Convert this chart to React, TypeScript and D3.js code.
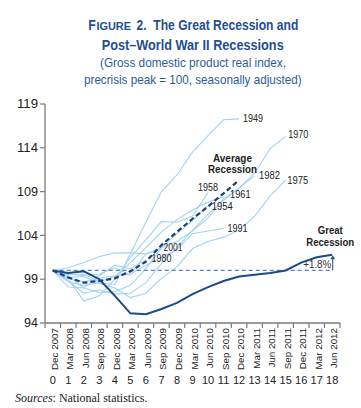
import React from "react";
import * as d3 from "d3";

const quarters = ["Dec 2007","Mar 2008","Jun 2008","Sep 2008","Dec 2008","Mar 2009","Jun 2009","Sep 2009","Dec 2009","Mar 2010","Jun 2010","Sep 2010","Dec 2010","Mar 2011","Jun 2011","Sep 2011","Dec 2011","Mar 2012","Jun 2012"];
const yTicks = [94, 99, 104, 109, 114, 119];

const greatRecession = [100, 99.7, 99.9, 99.0, 97.1, 95.1, 95.0, 95.6, 96.3, 97.3, 98.1, 98.8, 99.3, 99.5, 99.7, 100.0, 100.9, 101.5, 101.8];
const averageRecession = [100, 99.2, 98.6, 98.8, 99.1, 99.9, 101.0, 102.9, 104.4, 105.9, 107.3, 108.8, 110.3];

const r1949 = [100, 98.7, 98.3, 98.6, 98.4, 101.9, 105.5, 109.0, 110.9, 113.5, 115.4, 117.2, 117.3];
const r1970 = [100, 99.6, 99.4, 99.6, 100.3, 99.5, 101.9, 102.6, 103.3, 104.5, 106.0, 108.2, 109.4, 111.1, 113.9, 115.3];
const r1975 = [100, 99.2, 99.3, 98.5, 98.0, 96.9, 97.4, 99.1, 100.4, 102.5, 103.3, 103.8, 104.6, 106.2, 108.5, 110.3];
const r1982 = [100, 98.8, 97.4, 97.8, 97.3, 97.4, 98.6, 100.8, 102.6, 104.6, 106.4, 108.0, 109.4, 110.8];
const r1958 = [100, 99.0, 96.5, 97.1, 99.0, 101.5, 103.5, 105.6, 105.5, 106.2, 108.9];
const r1961 = [100, 99.5, 99.6, 98.7, 99.3, 100.9, 102.6, 104.4, 105.8, 106.9, 107.8, 108.4];
const r1954 = [100, 99.4, 98.0, 97.5, 97.6, 98.3, 100.2, 102.6, 104.2, 105.7, 107.4];
const r1991 = [100, 99.1, 98.7, 99.1, 99.4, 99.6, 100.6, 101.5, 102.4, 104.2, 104.5, 104.8];
const r2001 = [100, 100.3, 100.9, 101.6, 102.0, 102.0, 101.9, 102.4];
const r1980 = [100, 98.1, 98.0, 99.4, 100.6, 100.2, 101.2];

const pastNames = ["1949", "1970", "1982", "1975", "1958", "1961", "1954", "1991", "2001", "1980"];
const pastSeries = [r1949, r1970, r1982, r1975, r1958, r1961, r1954, r1991, r2001, r1980];
// label offsets relative to each line's last point: [dx, dy, anchor]
const pastLabelOffsets: [number, number, string][] = [
  [4, 3, "start"], [2.5, 2, "start"], [4.5, 3, "start"], [1.5, 3.5, "start"], [0, -1.5, "middle"],
  [6.5, 1, "start"], [3.7, 4.7, "start"], [4, 4, "start"], [2, 1.5, "start"], [5.7, 2, "start"],
];
const pastLabelWidths = [20, 20, 21, 21, 20, 20.5, 21, 20, 19, 20];

const W = 361, H = 408;
const navy = "#1c4a89";
const light = "#a2d3f2";
const cond = "'Liberation Sans', Arial, sans-serif";

function T(props: any) {
  const { w, children, ...rest } = props;
  return (
    <text fontFamily={cond} textLength={w} lengthAdjust="spacingAndGlyphs" {...rest}>
      {children}
    </text>
  );
}

export default function App() {
  const x = d3.scaleBand<number>().domain(d3.range(quarters.length)).range([45, 340]).padding(0);
  const cx = (i: number) => (x(i) as number) + x.bandwidth() / 2;
  const y = d3.scaleLinear().domain([94, 119]).range([323, 104]);
  const line = d3.line<number>().x((_, i) => cx(i)).y((v) => y(v));

  const grEnd = greatRecession.length - 1;
  const avEnd = averageRecession.length - 1;
  const titleBlue = "#1f4f8f";

  return (
    <svg width={W} height={H} style={{ position: "absolute", left: 0, top: 0 }}>
      <rect width={W} height={H} fill="#fff" />
      {/* Title */}
      <T x={88.3} y={29.5} w={7.5} fontWeight="bold" fill={titleBlue} fontSize={15}>F</T>
      <T x={96.5} y={29.5} w={34.5} fontWeight="bold" fill={titleBlue} fontSize={11.5}>IGURE</T>
      <T x={136.5} y={29.5} w={10} fontWeight="bold" fill={titleBlue} fontSize={15}>2.</T>
      <T x={153.3} y={29.5} w={145} fontWeight="bold" fill={titleBlue} fontSize={15}>The Great Recession and</T>
      <T x={101.7} y={50} w={182} fontWeight="bold" fill={titleBlue} fontSize={15}>Post–World War II Recessions</T>
      <T x={100} y={66.5} w={186} fill="#2b5d9c" fontSize={13}>(Gross domestic product real index,</T>
      <T x={84} y={84} w={217.7} fill="#2b5d9c" fontSize={13}>precrisis peak = 100, seasonally adjusted)</T>

      {/* Axes */}
      <line x1={45} x2={45} y1={y(119)} y2={y(94)} stroke="#7a7a7a" strokeWidth={1.3} />
      <line x1={45} x2={340} y1={y(94)} y2={y(94)} stroke="#7a7a7a" strokeWidth={1.3} />
      {yTicks.map((t) => (
        <g key={t}>
          <line x1={40} x2={45} y1={y(t)} y2={y(t)} stroke="#7a7a7a" strokeWidth={1.2} />
          <T x={38} y={y(t) + 4.2} textAnchor="end" fontSize={12} fill="#222" w={t >= 100 ? 21 : 14}>{t}</T>
        </g>
      ))}
      {d3.range(quarters.length + 1).map((i) => {
        const xx = 45 + i * x.bandwidth();
        return <line key={i} x1={xx} x2={xx} y1={y(94)} y2={y(94) + 5} stroke="#7a7a7a" strokeWidth={1.2} />;
      })}
      {quarters.map((q, i) => (
        <g key={q}>
          <text transform={`translate(${cx(i) + 5},328) rotate(-90)`} textAnchor="end" fontFamily={cond} fontSize={9.8} fill="#222">{q}</text>
          <text x={cx(i)} y={384} textAnchor="middle" fontFamily={cond} fontSize={11} fill="#222">{i}</text>
        </g>
      ))}
      <text x={15} y={401.5} fontFamily="'Liberation Serif', 'Times New Roman', serif" fontSize={12} fill="#222">
        <tspan fontStyle="italic">Sources</tspan>: National statistics.
      </text>

      {/* Past recessions */}
      {pastSeries.map((s, k) => (
        <path key={pastNames[k]} d={line(s) as string} fill="none" stroke={light} strokeWidth={1.1} />
      ))}
      {pastSeries.map((s, k) => {
        const last = s.length - 1;
        const [dx, dy, anchor] = pastLabelOffsets[k];
        return (
          <T key={"l" + k} x={cx(last) + dx} y={y(s[last]) + dy} textAnchor={anchor} fontSize={11.5} fill="#222" w={pastLabelWidths[k]}>
            {pastNames[k]}
          </T>
        );
      })}

      {/* Precrisis peak line */}
      <line x1={cx(0)} x2={cx(grEnd)} y1={y(100)} y2={y(100)} stroke="#5a86c2" strokeWidth={1.3} strokeDasharray="4,3" />

      {/* Average recession */}
      <path d={line(averageRecession) as string} fill="none" stroke="#1d3f78" strokeWidth={2.2} strokeDasharray="5,3" />
      <T x={cx(avEnd) - 6.6} y={y(averageRecession[avEnd]) - 18.5} textAnchor="middle" fontWeight="bold" fontSize={11} fill="#222" w={39}>Average</T>
      <T x={cx(avEnd) - 6.6} y={y(averageRecession[avEnd]) - 7} textAnchor="middle" fontWeight="bold" fontSize={11} fill="#222" w={49}>Recession</T>

      {/* Great Recession */}
      <path d={line(greatRecession) as string} fill="none" stroke={navy} strokeWidth={2} />
      <T x={cx(grEnd) - 2} y={y(greatRecession[grEnd]) - 21} textAnchor="middle" fontWeight="bold" fontSize={11} fill="#222" w={25}>Great</T>
      <T x={cx(grEnd) - 2} y={y(greatRecession[grEnd]) - 8.4} textAnchor="middle" fontWeight="bold" fontSize={11} fill="#222" w={48}>Recession</T>

      {/* +1.8% arrow */}
      <line x1={cx(grEnd) + 0.5} x2={cx(grEnd) + 0.5} y1={y(100)} y2={y(greatRecession[grEnd]) + 3} stroke={navy} strokeWidth={1} />
      <path d={`M${cx(grEnd) + 0.5},${y(greatRecession[grEnd]) + 0.5} l-2.2,4 h4.4 z`} fill={navy} />
      <T x={cx(grEnd) - 1} y={y(100) - 2.7} textAnchor="end" fontSize={11.5} fill="#333" w={28}>+1.8%</T>
    </svg>
  );
}
